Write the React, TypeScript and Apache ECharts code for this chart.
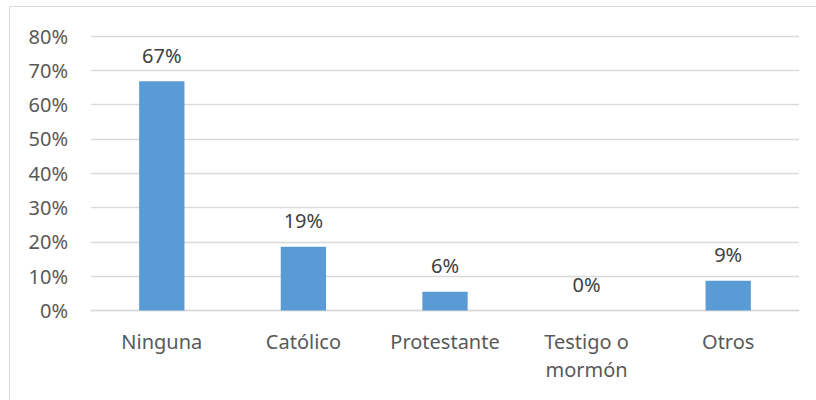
import React, { useEffect, useRef } from "react";
import * as echarts from "echarts";

const categories = ["Ninguna", "Católico", "Protestante", "Testigo o\nmormón", "Otros"];
const values = [66.8, 18.6, 5.5, 0, 8.7];
const labels = ["67%", "19%", "6%", "0%", "9%"];

export default function App() {
  const ref = useRef<HTMLDivElement>(null);
  useEffect(() => {
    if (!ref.current) return;
    const chart = echarts.init(ref.current, null, { renderer: "svg" });
    const font = "'Noto Sans', sans-serif";
    chart.setOption({
      animation: false,
      backgroundColor: "#ffffff",
      graphic: [
        {
          type: "rect",
          shape: { x: 9.5, y: 6.5, width: 830, height: 430 },
          style: { fill: "none", stroke: "#D9D9D9", lineWidth: 1 },
          silent: true,
        },
      ],
      grid: { left: 91, right: 17, top: 36, bottom: 89.5 },
      xAxis: {
        type: "category",
        data: categories,
        axisLine: { show: true, lineStyle: { color: "#D9D9D9", width: 1.3 } },
        axisTick: { show: false },
        axisLabel: {
          color: "#595959",
          fontFamily: font,
          fontSize: 20,
          lineHeight: 28,
          margin: 17,
          interval: 0,
        },
      },
      yAxis: {
        type: "value",
        min: 0,
        max: 80,
        interval: 10,
        axisLine: { show: false },
        axisTick: { show: false },
        splitLine: { lineStyle: { color: "#D9D9D9", width: 1.3 } },
        axisLabel: {
          color: "#595959",
          fontFamily: font,
          fontSize: 20,
          margin: 23,
          formatter: (v: number) => v + "%",
        },
      },
      series: [
        {
          type: "bar",
          data: values,
          barWidth: "32%",
          itemStyle: { color: "#5B9BD5" },
          label: {
            show: true,
            position: "top",
            distance: 16,
            color: "#404040",
            fontFamily: font,
            fontSize: 20,
            lineHeight: 20,
            formatter: (p: any) => labels[p.dataIndex],
          },
        },
      ],
    });
    return () => chart.dispose();
  }, []);
  return (
    <div
      ref={ref}
      style={{ position: "fixed", left: 0, top: 0, width: 816, height: 400 }}
    />
  );
}
